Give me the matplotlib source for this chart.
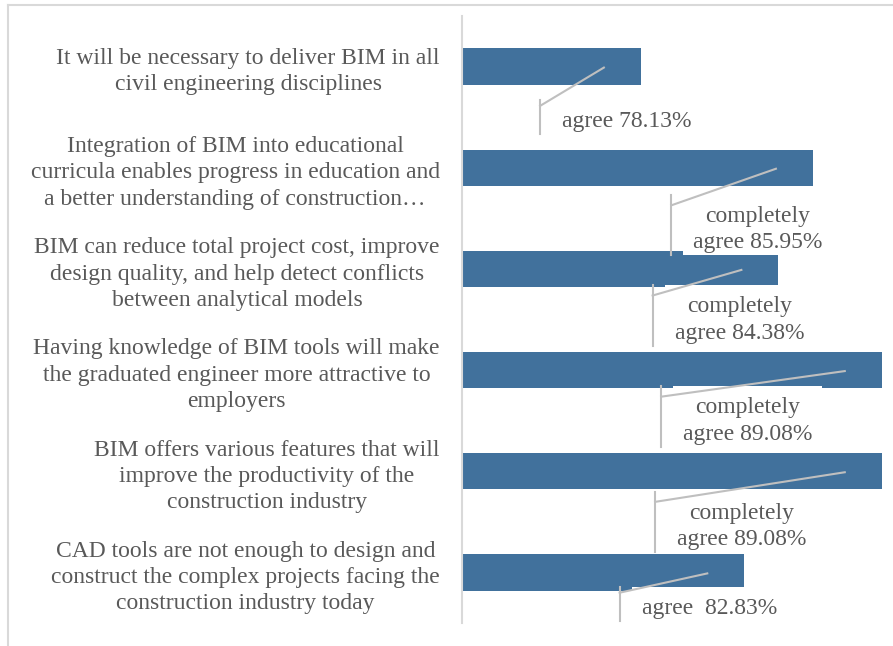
import matplotlib.pyplot as plt
from matplotlib.lines import Line2D
from matplotlib.patches import Rectangle

categories = [
    "It will be necessary to deliver BIM in all\ncivil engineering disciplines",
    "Integration of BIM into educational\ncurricula enables progress in education and\na better understanding of construction…",
    "BIM can reduce total project cost, improve\ndesign quality, and help detect conflicts\nbetween analytical models",
    "Having knowledge of BIM tools will make\nthe graduated engineer more attractive to\nemployers",
    "BIM offers various features that will\nimprove the productivity of the\nconstruction industry",
    "CAD tools are not enough to design and\nconstruct the complex projects facing the\nconstruction industry today",
]
values = [78.13, 85.95, 84.38, 89.08, 89.08, 82.83]
labels = [
    "agree 78.13%",
    "completely\nagree 85.95%",
    "completely\nagree 84.38%",
    "completely\nagree 89.08%",
    "completely\nagree 89.08%",
    "agree  82.83%",
]
# label centre offsets from bar end / bar centre, in pixels (layout only)
label_dx = [-14, -55, -39, -134, -140, -35]
label_dy = [55, 62, 51, 51, 55, 36]

W, H = 893, 646
bar_color = '#41719C'
txt_color = '#595959'
grid_color = '#D9D9D9'
leader_color = '#BFBFBF'
font = 'Liberation Serif'

plt.rcParams['font.family'] = [font, 'DejaVu Serif']

fig = plt.figure(figsize=(W / 100, H / 100), dpi=100)
ax = fig.add_axes([462 / W, (H - 623) / H, 431 / W, 607 / H])

pos = list(range(len(categories)))
ax.barh(pos, values, height=0.36, color=bar_color, zorder=2)
ax.set_xlim(70, 89.59)
ax.set_ylim(5.5, -0.5)

ax.set_yticks(pos)
ax.set_yticklabels(categories, fontsize=17, color=txt_color, linespacing=1.33)
for t in ax.get_yticklabels():
    t.set_multialignment('center')
ax.tick_params(axis='y', length=0, pad=16)
ax.set_xticks([])
for s in ['top', 'right', 'bottom']:
    ax.spines[s].set_visible(False)
ax.spines['left'].set_color(grid_color)
ax.spines['left'].set_linewidth(1.5)

# outer border (top and left visible)
fig.add_artist(Line2D([8 / W, 1], [1 - 5 / H, 1 - 5 / H], transform=fig.transFigure,
                      color=grid_color, lw=1.5))
fig.add_artist(Line2D([8 / W, 8 / W], [0, 1 - 5 / H], transform=fig.transFigure,
                      color=grid_color, lw=1.5))

fig.canvas.draw()
renderer = fig.canvas.get_renderer()

texts = []
for i, v in enumerate(values):
    ex, cy = ax.transData.transform((v, i))
    bx, by = ex + label_dx[i], cy - label_dy[i]
    t = fig.text(bx / W, by / H, labels[i], ha='center', va='center',
                 multialignment='center', fontsize=17, color=txt_color,
                 linespacing=1.33, zorder=3)
    texts.append((t, ex, cy))

fig.canvas.draw()
for t, ex, cy in texts:
    tb = t.get_window_extent(renderer)
    x0, x1 = tb.x0 - 10, tb.x1 + 10
    y0, y1 = tb.y0 - 2, tb.y1 + 11
    fig.add_artist(Rectangle((x0 / W, y0 / H), (x1 - x0) / W, (y1 - y0) / H,
                             transform=fig.transFigure, fc='white', ec='none',
                             zorder=2.5))
    vx = x0 - 12
    meet = y1 - 0.17 * (y1 - y0)
    sx, sy = ex - 37, cy - 1
    fig.add_artist(Line2D([sx / W, vx / W], [sy / H, meet / H],
                          transform=fig.transFigure, color=leader_color,
                          lw=1.5, zorder=4))
    fig.add_artist(Line2D([vx / W, vx / W], [y0 / H, y1 / H],
                          transform=fig.transFigure, color=leader_color, lw=1.5,
                          zorder=4))

fig.savefig('out.png', dpi=100)
